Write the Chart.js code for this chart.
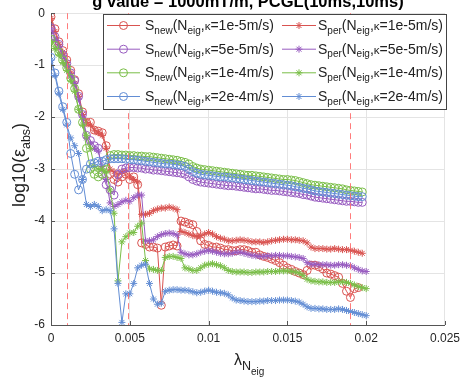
<!DOCTYPE html>
<html>
<head>
<meta charset="utf-8">
<script src="https://cdn.jsdelivr.net/npm/chart.js@4.4.1/dist/chart.umd.min.js"></script>
<style>html,body{margin:0;padding:0;background:#fff}canvas{display:block}</style>
</head>
<body>
<canvas id="canvas" width="466" height="379"></canvas>
<script>
const FONT = '"Liberation Sans", Arial, Helvetica, sans-serif';

// lambda_N_eig sample positions
const lambdaN = [
  0, 0.00025, 0.0005, 0.00075, 0.001, 0.00125, 0.0015, 0.00175, 0.002, 0.00225,
  0.0025, 0.00275, 0.003, 0.00325, 0.0035, 0.00375, 0.004, 0.00425, 0.0045, 0.00475,
  0.005, 0.00525, 0.0055, 0.00575, 0.006, 0.00625, 0.0065, 0.00675, 0.007, 0.00725,
  0.0075, 0.00775, 0.008, 0.00825, 0.0085, 0.00875, 0.009, 0.00925, 0.0095, 0.00975,
  0.01, 0.01025, 0.0105, 0.01075, 0.011, 0.01125, 0.0115, 0.01175, 0.012, 0.01225,
  0.0125, 0.01275, 0.013, 0.01325, 0.0135, 0.01375, 0.014, 0.01425, 0.0145, 0.01475,
  0.015, 0.01525, 0.0155, 0.01575, 0.016, 0.01625, 0.0165, 0.01675, 0.017, 0.01725,
  0.0175, 0.01775, 0.018, 0.01825, 0.0185, 0.01875, 0.019, 0.01925, 0.0195, 0.01975,
  0.02
];

// log10(eps_abs), S_new
const newK1e5 = [
  -0.07,-0.3,-0.55,-0.72,-0.9,-1.1,-1.28,-1.55,-1.9,-2.1,
  -2.1,-2.25,-2.27,-2.3,-2.55,-3.1,-3.2,-3.25,-3.15,-3.1,
  -3.2,-3.15,-3.3,-4.42,-4.45,-4.5,-4.5,-4.52,-5.62,-4.5,
  -4.48,-4.46,-4.48,-4.0,-4.02,-4.05,-4.07,-4.2,-4.38,-4.45,
  -4.47,-4.5,-4.5,-4.52,-4.55,-4.55,-4.57,-4.57,-4.55,-4.55,
  -4.57,-4.6,-4.6,-4.65,-4.68,-4.7,-4.73,-4.76,-4.8,-4.85,
  -4.9,-4.93,-4.97,-5.0,-5.03,-4.95,-4.85,-4.85,-4.88,-4.92,
  -5.0,-5.02,-5.05,-5.08,-5.2,-5.35,-5.47,-5.3,-5.28,null
];
const newK5e5 = [
  -0.28,-0.45,-0.6,-0.8,-0.97,-1.15,-1.3,-1.6,-1.95,-2.35,
  -2.45,-2.55,-2.6,-3.1,-3.3,-3.4,-3.5,-3.1,-3.0,-2.98,
  -2.97,-2.97,-2.98,-2.98,-3.0,-3.0,-3.02,-3.02,-3.03,-3.04,
  -3.05,-3.06,-3.07,-3.08,-3.1,-3.15,-3.2,-3.23,-3.25,-3.26,
  -3.27,-3.28,-3.29,-3.3,-3.31,-3.32,-3.32,-3.33,-3.34,-3.35,
  -3.36,-3.37,-3.38,-3.38,-3.39,-3.4,-3.41,-3.41,-3.42,-3.43,
  -3.44,-3.45,-3.46,-3.47,-3.49,-3.5,-3.52,-3.54,-3.55,-3.56,
  -3.57,-3.58,-3.59,-3.6,-3.61,-3.62,-3.62,-3.63,-3.64,-3.64
];
const newK1e4 = [
  -0.5,-0.62,-0.75,-0.9,-1.05,-1.25,-1.45,-1.85,-2.1,-2.6,
  -3.0,-3.1,-3.15,-3.1,-3.0,-2.74,-2.72,-2.72,-2.73,-2.73,
  -2.74,-2.74,-2.75,-2.75,-2.76,-2.76,-2.77,-2.78,-2.79,-2.8,
  -2.81,-2.82,-2.83,-2.85,-2.87,-2.9,-2.95,-2.98,-3.0,-3.01,
  -3.02,-3.03,-3.04,-3.05,-3.06,-3.07,-3.08,-3.09,-3.1,-3.11,
  -3.12,-3.12,-3.13,-3.14,-3.15,-3.16,-3.17,-3.18,-3.19,-3.2,
  -3.2,-3.21,-3.22,-3.24,-3.26,-3.28,-3.3,-3.31,-3.32,-3.33,
  -3.34,-3.35,-3.36,-3.37,-3.38,-3.4,-3.41,-3.42,-3.43,-3.44
];
const newK2e4 = [
  -0.85,-1.15,-1.5,-1.8,-2.1,-2.7,-3.1,-3.4,-3.2,-3.0,
  -2.9,-2.88,-2.85,-2.85,-2.82,-2.8,-2.8,-2.8,-2.8,-2.81,
  -2.82,-2.82,-2.83,-2.84,-2.85,-2.86,-2.87,-2.88,-2.89,-2.9,
  -2.9,-2.91,-2.92,-2.93,-2.95,-3.0,-3.05,-3.08,-3.1,-3.11,
  -3.12,-3.13,-3.14,-3.15,-3.15,-3.16,-3.17,-3.18,-3.19,-3.2,
  -3.21,-3.22,-3.23,-3.24,-3.25,-3.26,-3.27,-3.28,-3.29,-3.3,
  -3.31,-3.32,-3.34,-3.35,-3.37,-3.38,-3.4,-3.42,-3.43,-3.44,
  -3.45,-3.46,-3.47,-3.48,-3.49,-3.5,-3.51,-3.52,-3.53,-3.53
];

// log10(eps_abs), S_per
const perK1e5 = [
  -0.1,-0.35,-0.6,-0.75,-0.95,-1.15,-1.35,-1.6,-1.95,-2.1,
  -2.15,-2.25,-2.3,-2.35,-2.6,-3.0,-3.05,-3.1,-3.05,-3.05,
  -3.15,-3.2,-3.25,-3.87,-3.87,-3.85,-3.8,-3.77,-3.75,-3.75,
  -3.73,-3.75,-3.78,-4.2,-4.22,-4.25,-4.28,-4.3,-4.28,-4.25,
  -4.22,-4.25,-4.3,-4.33,-4.35,-4.38,-4.38,-4.37,-4.36,-4.37,
  -4.38,-4.4,-4.4,-4.4,-4.41,-4.4,-4.38,-4.37,-4.36,-4.35,
  -4.35,-4.36,-4.36,-4.37,-4.38,-4.42,-4.5,-4.53,-4.53,-4.53,
  -4.54,-4.54,-4.53,-4.54,-4.55,-4.55,-4.56,-4.58,-4.6,-4.62,
  null
];
const perK5e5 = [
  -0.3,-0.5,-0.65,-0.82,-1.0,-1.2,-1.35,-1.65,-2.0,-2.4,
  -2.5,-2.6,-2.65,-2.95,-3.2,-3.65,-3.72,-3.68,-3.63,-3.6,
  -3.62,-3.55,-3.5,-3.5,-4.38,-4.38,-4.36,-4.3,-4.26,-4.24,
  -4.23,-4.24,-4.27,-4.6,-4.63,-4.65,-4.65,-4.63,-4.6,-4.58,
  -4.57,-4.58,-4.6,-4.62,-4.63,-4.63,-4.62,-4.6,-4.6,-4.62,
  -4.64,-4.66,-4.67,-4.68,-4.68,-4.67,-4.67,-4.66,-4.66,-4.67,
  -4.67,-4.68,-4.69,-4.7,-4.72,-4.8,-4.83,-4.83,-4.84,-4.84,
  -4.84,-4.85,-4.85,-4.84,-4.84,-4.85,-4.86,-4.9,-4.93,-4.96,
  -4.97
];
const perK1e4 = [
  -0.55,-0.68,-0.8,-0.95,-1.1,-1.3,-1.5,-1.85,-2.15,-2.35,
  -2.6,-2.95,-3.0,-3.0,-3.05,-3.4,-3.85,-5.15,-4.4,-4.3,
  -4.23,-4.22,-4.1,-4.04,-4.76,-4.92,-4.93,-4.95,-4.95,-4.7,
  -4.68,-4.68,-4.7,-4.72,-4.9,-4.92,-4.95,-4.95,-4.9,-4.85,
  -4.83,-4.82,-4.84,-4.86,-4.9,-4.95,-4.97,-4.98,-4.98,-4.98,
  -4.99,-4.99,-4.98,-4.98,-4.98,-4.97,-4.97,-4.97,-4.96,-4.96,
  -4.96,-4.97,-4.98,-5.0,-5.05,-5.12,-5.15,-5.16,-5.17,-5.17,
  -5.18,-5.18,-5.18,-5.17,-5.17,-5.18,-5.2,-5.23,-5.26,-5.28,
  -5.3
];
const perK2e4 = [
  -0.9,-1.2,-1.55,-1.85,-2.15,-2.4,-2.55,-2.7,-3.2,-3.68,
  -3.72,-3.68,-3.72,-3.8,-3.78,-3.8,-4.15,-5.2,-5.95,-5.4,
  -5.4,-5.2,-4.9,-4.85,-4.83,-5.2,-5.5,-5.6,-5.58,-5.35,
  -5.33,-5.32,-5.32,-5.33,-5.33,-5.34,-5.36,-5.38,-5.37,-5.35,
  -5.33,-5.35,-5.37,-5.38,-5.39,-5.42,-5.48,-5.52,-5.53,-5.54,
  -5.55,-5.55,-5.55,-5.54,-5.54,-5.53,-5.53,-5.53,-5.52,-5.52,
  -5.52,-5.53,-5.54,-5.56,-5.6,-5.65,-5.68,-5.68,-5.69,-5.69,
  -5.7,-5.7,-5.7,-5.69,-5.7,-5.72,-5.74,-5.76,-5.78,-5.8,
  -5.82
];

const kappas = ['1e-5', '5e-5', '1e-4', '2e-4'];
const colors = ['rgb(217,83,80)', 'rgb(152,92,192)', 'rgb(122,190,72)', 'rgb(98,141,212)'];
const newSeries = [newK1e5, newK5e5, newK1e4, newK2e4];
const perSeries = [perK1e5, perK5e5, perK1e4, perK2e4];

const markX = [0.001, 0.0049, 0.019];
const xTickLabels = ['0', '0.005', '0.01', '0.015', '0.02', '0.025'];
const yTickLabels = ['-6', '-5', '-4', '-3', '-2', '-1', '0'];
const titleText = 'g value = 1000mT/m, PCGL(10ms,10ms)';

const toPoints = ys => ys.map((v, i) => ({ x: lambdaN[i], y: v }));

const datasets = [];
kappas.forEach((k, i) => {
  datasets.push({
    label: 'S_new(N_eig,κ=' + k + 'm/s)',
    data: toPoints(newSeries[i]),
    borderColor: colors[i],
    backgroundColor: 'rgba(0,0,0,0)',
    pointStyle: 'circle',
    pointRadius: 4,
    pointBorderWidth: 1,
    borderWidth: 1
  });
  datasets.push({
    label: 'S_per(N_eig,κ=' + k + 'm/s)',
    data: toPoints(perSeries[i]),
    borderColor: colors[i],
    backgroundColor: 'rgba(0,0,0,0)',
    pointStyle: 'star',
    pointRadius: 3.5,
    pointBorderWidth: 1,
    borderWidth: 1
  });
});
datasets.forEach((d, i) => { d.order = datasets.length - 1 - i; });

// draws text pieces with different sizes / offsets, returns end x
const rich = (ctx, x, y, parts) => {
  parts.forEach(([t, size, dy]) => {
    ctx.font = size + 'px ' + FONT;
    ctx.fillText(t, x, y + dy);
    x += ctx.measureText(t).width;
  });
  return x;
};

const drawMarker = (ctx, kind, cx, cy, r) => {
  ctx.beginPath();
  if (kind === 'circle') {
    ctx.arc(cx, cy, r, 0, Math.PI * 2);
  } else {
    ctx.moveTo(cx - r, cy); ctx.lineTo(cx + r, cy);
    ctx.moveTo(cx, cy - r); ctx.lineTo(cx, cy + r);
    const d = r * 0.707;
    ctx.moveTo(cx - d, cy - d); ctx.lineTo(cx + d, cy + d);
    ctx.moveTo(cx - d, cy + d); ctx.lineTo(cx + d, cy - d);
  }
  ctx.stroke();
};

const extras = {
  id: 'extras',
  afterDatasetsDraw(chart) {
    const { ctx, chartArea: a, scales: { x, y } } = chart;
    ctx.save();
    // dashed markers
    ctx.strokeStyle = 'rgba(255,110,110,0.9)';
    ctx.lineWidth = 1;
    ctx.setLineDash([6, 4]);
    markX.forEach(v => {
      const px = Math.round(x.getPixelForValue(v)) + 0.5;
      ctx.beginPath(); ctx.moveTo(px, a.top); ctx.lineTo(px, a.bottom); ctx.stroke();
    });
    ctx.setLineDash([]);

    // inner tick marks
    ctx.strokeStyle = '#555';
    x.ticks.forEach(t => {
      const px = Math.round(x.getPixelForValue(t.value)) + 0.5;
      ctx.beginPath(); ctx.moveTo(px, a.bottom); ctx.lineTo(px, a.bottom - 4); ctx.stroke();
    });
    y.ticks.forEach(t => {
      const py = Math.round(y.getPixelForValue(t.value)) + 0.5;
      ctx.beginPath(); ctx.moveTo(a.left, py); ctx.lineTo(a.left + 4, py); ctx.stroke();
    });

    // legend
    const bx = 103.5, by = 14.5, bw = 343, bh = 95;
    ctx.fillStyle = '#fff';
    ctx.fillRect(bx, by, bw, bh);
    ctx.strokeStyle = '#444';
    ctx.strokeRect(bx, by, bw, bh);
    const rowsY = [25, 48.7, 72.3, 96];
    const cols = [
      { x1: 107, x2: 140, tx: 145, kind: 'circle', sub: 'new' },
      { x1: 282, x2: 316, tx: 318, kind: 'star', sub: 'per' }
    ];
    ctx.textBaseline = 'alphabetic';
    ctx.textAlign = 'left';
    kappas.forEach((k, r) => {
      const ry = rowsY[r];
      cols.forEach(c => {
        ctx.strokeStyle = colors[r];
        ctx.lineWidth = 1;
        ctx.beginPath(); ctx.moveTo(c.x1, ry + 0.5); ctx.lineTo(c.x2, ry + 0.5); ctx.stroke();
        drawMarker(ctx, c.kind, (c.x1 + c.x2) / 2, ry + 0.5, c.kind === 'circle' ? 4 : 3.5);
        ctx.fillStyle = '#222';
        rich(ctx, c.tx, ry + 5, [
          ['S', 14, 0], [c.sub, 10, 3.5], ['(N', 14, 0], ['eig', 10, 3.5],
          [',', 14, 0], ['κ', 11.5, 0], ['=' + k + 'm/s)', 14, 0]
        ]);
      });
    });
    ctx.restore();
  },
  afterDraw(chart) {
    const { ctx, chartArea: a } = chart;
    ctx.save();
    ctx.fillStyle = '#000';
    ctx.textBaseline = 'alphabetic';
    ctx.textAlign = 'center';
    ctx.font = 'bold 16.5px ' + FONT;
    ctx.fillText(titleText, (a.left + a.right) / 2, 7);

    // x axis title
    ctx.textAlign = 'left';
    ctx.fillStyle = '#222';
    rich(ctx, 234, 365, [['λ', 16, 0], ['N', 12.5, 5], ['eig', 10, 9.5]]);

    // y axis title
    ctx.translate(25, 165);
    ctx.rotate(-Math.PI / 2);
    ctx.font = '18px ' + FONT;
    const w = ctx.measureText('log10(ε').width + ctx.measureText(')').width;
    ctx.font = '12.5px ' + FONT;
    const ws = ctx.measureText('abs').width;
    rich(ctx, -(w + ws) / 2, 0, [['log10(ε', 18, 0], ['abs', 12.5, 4.5], [')', 18, 0]]);
    ctx.restore();
  }
};

const tickFont = { family: FONT, size: 12 };

new Chart(document.getElementById('canvas').getContext('2d'), {
  type: 'line',
  data: { datasets },
  options: {
    responsive: false,
    animation: false,
    devicePixelRatio: 1,
    layout: { padding: { top: 9.5, right: 15, left: 0, bottom: 0 } },
    plugins: { legend: { display: false }, tooltip: { enabled: false }, title: { display: false } },
    elements: { line: { tension: 0 } },
    scales: {
      x: {
        type: 'linear', min: 0, max: 0.025,
        ticks: {
          stepSize: 0.005, color: '#262626', font: tickFont, padding: 6, maxRotation: 0,
          callback: (v, i) => xTickLabels[i]
        },
        grid: { color: '#e4e4e4', drawTicks: false },
        border: { color: '#555' },
        afterFit: s => { s.height = 54; }
      },
      y: {
        type: 'linear', min: -6, max: 0,
        ticks: {
          stepSize: 1, color: '#262626', font: tickFont, padding: 6,
          callback: (v, i) => yTickLabels[i]
        },
        grid: { color: '#e4e4e4', drawTicks: false },
        border: { color: '#555' },
        afterFit: s => { s.width = 51; }
      }
    }
  },
  plugins: [extras]
});
</script>
</body>
</html>
